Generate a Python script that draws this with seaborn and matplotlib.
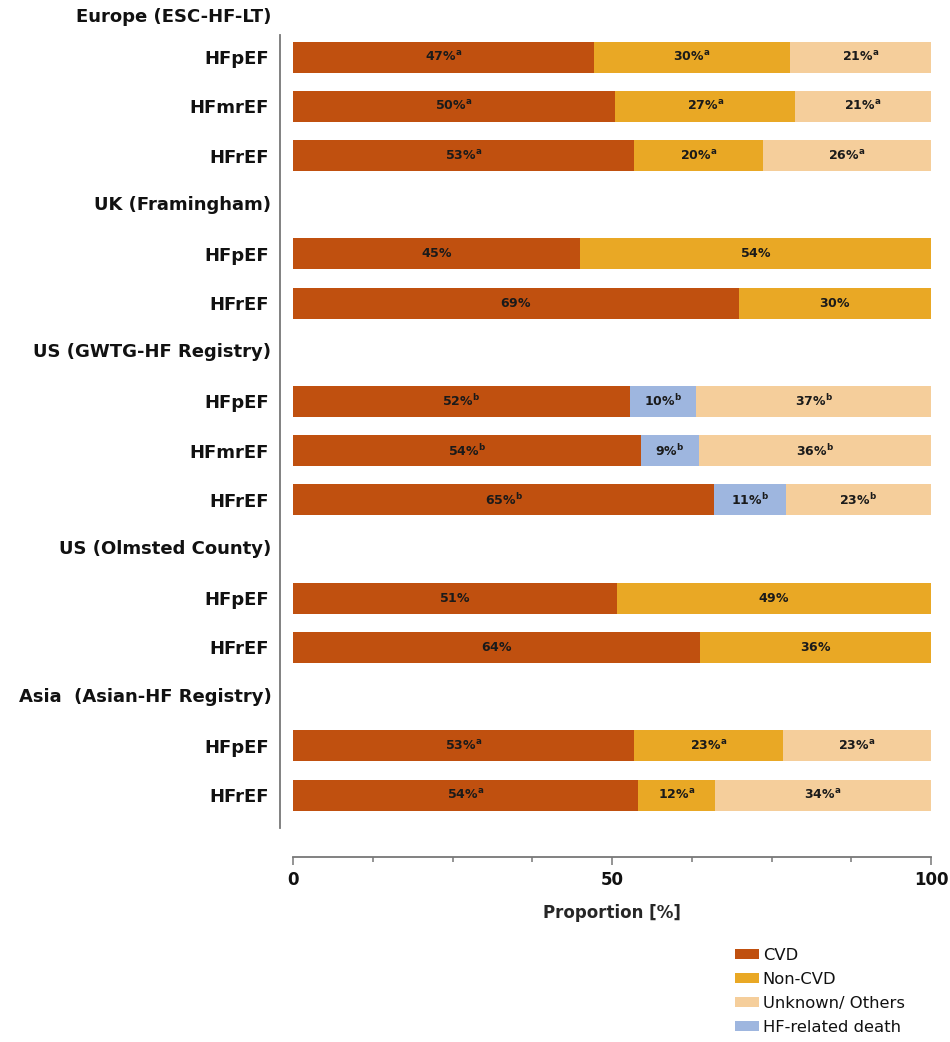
import numpy as np
import pandas as pd
import seaborn as sns
import matplotlib
matplotlib.use('Agg')
from matplotlib import pyplot as plt
from matplotlib.patches import Patch
from matplotlib.ticker import MultipleLocator

# cohorts and the HF types shown under each one
groups = ['Europe (ESC-HF-LT)', 'UK (Framingham)', 'US (GWTG-HF Registry)',
          'US (Olmsted County)', 'Asia  (Asian-HF Registry)']
group_rows = [['HFpEF', 'HFmrEF', 'HFrEF'], ['HFpEF', 'HFrEF'],
              ['HFpEF', 'HFmrEF', 'HFrEF'], ['HFpEF', 'HFrEF'], ['HFpEF', 'HFrEF']]

# segment lengths as drawn
cvd_w = [47.2, 50.5, 53.4, 45.0, 69.9, 52.8, 54.5, 66.0, 50.8, 63.8, 53.4, 54.0]
second_w = [30.7, 28.2, 20.3, 55.0, 30.1, 10.4, 9.2, 11.2, 49.2, 36.2, 23.4, 12.1]
unk_w = [22.1, 21.3, 26.3, 0, 0, 36.8, 36.3, 22.8, 0, 0, 23.2, 33.9]
second_cat = ['Non-CVD', 'Non-CVD', 'Non-CVD', 'Non-CVD', 'Non-CVD',
              'HF-related death', 'HF-related death', 'HF-related death',
              'Non-CVD', 'Non-CVD', 'Non-CVD', 'Non-CVD']

# printed percentages
cvd_pct = [47, 50, 53, 45, 69, 52, 54, 65, 51, 64, 53, 54]
second_pct = [30, 27, 20, 54, 30, 10, 9, 11, 49, 36, 23, 12]
unk_pct = [21, 21, 26, None, None, 37, 36, 23, None, None, 23, 34]
notes = ['a', 'a', 'a', '', '', 'b', 'b', 'b', '', '', 'a', 'a']

colors = {'CVD': '#C0500F', 'Non-CVD': '#E9A825',
          'Unknown/ Others': '#F5CE9B', 'HF-related death': '#9EB6DF'}

sns.set_style('white')
plt.rcParams['font.family'] = ['DejaVu Sans']
plt.rcParams['text.color'] = '#111111'
plt.rcParams['xtick.color'] = '#111111'
plt.rcParams['ytick.color'] = '#111111'

order, tick_pos, tick_lab, head_pos, keys = [], [], [], [], []
for g, names in zip(groups, group_rows):
    head_pos.append(len(order))
    order.append(g)
    for n in names:
        tick_pos.append(len(order))
        tick_lab.append(n)
        keys.append(g + ' | ' + n)
        order.append(g + ' | ' + n)

e1 = np.array(cvd_w)
e2 = e1 + np.array(second_w)
e3 = e2 + np.array(unk_w)

fig = plt.figure(figsize=(9.5, 10.42), dpi=100)
ax = fig.add_axes([293 / 950, 1 - 828 / 1042, 638 / 950, 793 / 1042])

levels = [
    (e3, ['Unknown/ Others'] * len(keys), np.array(unk_w) > 0),
    (e2, second_cat, np.ones(len(keys), bool)),
    (e1, ['CVD'] * len(keys), np.ones(len(keys), bool)),
]
for ends, cats, mask in levels:
    d = pd.DataFrame({'key': keys, 'end': ends, 'cat': cats})[mask]
    sns.barplot(data=d, x='end', y='key', hue='cat', order=order,
                hue_order=list(colors), palette=colors, orient='h',
                dodge=False, width=0.63, saturation=1, errorbar=None,
                legend=False, linewidth=0, ax=ax)


def lab(p, n):
    s = '$\\mathbf{' + str(p) + '\\%}'
    if n:
        s += '^{\\mathbf{' + n + '}}'
    return s + '$'


for i, k in enumerate(keys):
    y = order.index(k)
    segs = [(0, e1[i], cvd_pct[i]), (e1[i], e2[i], second_pct[i])]
    if unk_pct[i] is not None:
        segs.append((e2[i], e3[i], unk_pct[i]))
    for a, b, p in segs:
        ax.text((a + b) / 2, y, lab(p, notes[i]), ha='center', va='center',
                fontsize=9, color='#1a1a1a')

for j, (g, hp) in enumerate(zip(groups, head_pos)):
    yy = hp + 0.18 if j == 0 else hp
    ax.text(-0.034, yy, g, transform=ax.get_yaxis_transform(), ha='right',
            va='center', fontsize=13, fontweight='bold', clip_on=False)

# move spines out first, it resets the tick styling
sns.despine(ax=ax, offset={'left': 9.4, 'bottom': 21})
for s in ['left', 'bottom']:
    ax.spines[s].set_color('#777777')
    ax.spines[s].set_linewidth(1.3)

ax.set_ylim(16.67, 0.55)
ax.set_xlim(0, 100)
ax.set_yticks(tick_pos)
ax.set_yticklabels(tick_lab, fontsize=13, fontweight='bold')
ax.set_xticks([0, 50, 100])
ax.set_xticklabels(['0', '50', '100'], fontsize=12, fontweight='bold')
ax.xaxis.set_minor_locator(MultipleLocator(12.5))
ax.tick_params(axis='y', length=0, pad=8)
ax.tick_params(axis='x', which='major', length=5.8, width=1.1, color='#777777',
               pad=4, bottom=True)
ax.tick_params(axis='x', which='minor', length=3.6, width=1.1, color='#777777',
               bottom=True)
ax.set_xlabel('Proportion [%]', fontsize=12, fontweight='bold', labelpad=11)
ax.set_ylabel('')

handles = [Patch(facecolor=c, edgecolor='none', label=l) for l, c in colors.items()]
fig.legend(handles=handles, loc='upper left', bbox_to_anchor=(735 / 950, 1 - 948 / 1042),
           frameon=False, fontsize=11.8, handlelength=1.45, handleheight=0.55,
           handletextpad=0.25, labelspacing=0.55, borderpad=0, borderaxespad=0)

fig.savefig('out.png', dpi=100)
